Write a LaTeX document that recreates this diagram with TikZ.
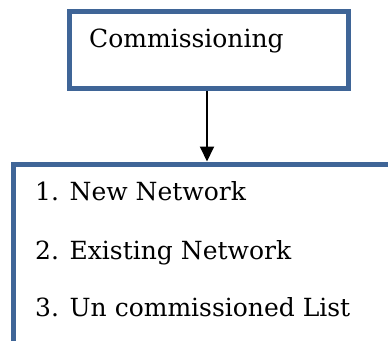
\documentclass[tikz,border=0pt]{standalone}
\usepackage{fontspec}
\setmainfont{DejaVu Serif}
\usetikzlibrary{arrows.meta}
\definecolor{boxblue}{HTML}{3F6597}
\tikzset{
  frame/.style={draw=boxblue, line width=5pt, line join=miter},
  label/.style={anchor=base west, inner sep=0pt, font=\fontsize{25}{30}\selectfont},
  link/.style={line width=2pt, -{Triangle[length=15pt,width=14pt]}}
}
\begin{document}
\begin{tikzpicture}[x=1pt,y=-1pt]
\useasboundingbox (0,0) rectangle (388,340);
\fill[white] (0,0) rectangle (388,340);
\node[frame, minimum width=278.5pt, minimum height=76.5pt, inner sep=0pt] (top) at (208.75,49.75) {};
\node[label] (t0) at (89,47.5) {Commissioning};
\coordinate (ltop) at (207,161.5);
\coordinate (lleft) at (13.5,164);
\draw[frame] (13.5,350) -- (lleft) -- (400,164);
\draw[link] ([xshift=-1.75pt]top.south) -- (ltop);
\node[label] (t1) at (35,200.7) {1. New Network};
\node[label] (t2) at (35,259.5) {2. Existing Network};
\node[label] (t3) at (35,316.7) {3. Un commissioned List};
\end{tikzpicture}
\end{document}
